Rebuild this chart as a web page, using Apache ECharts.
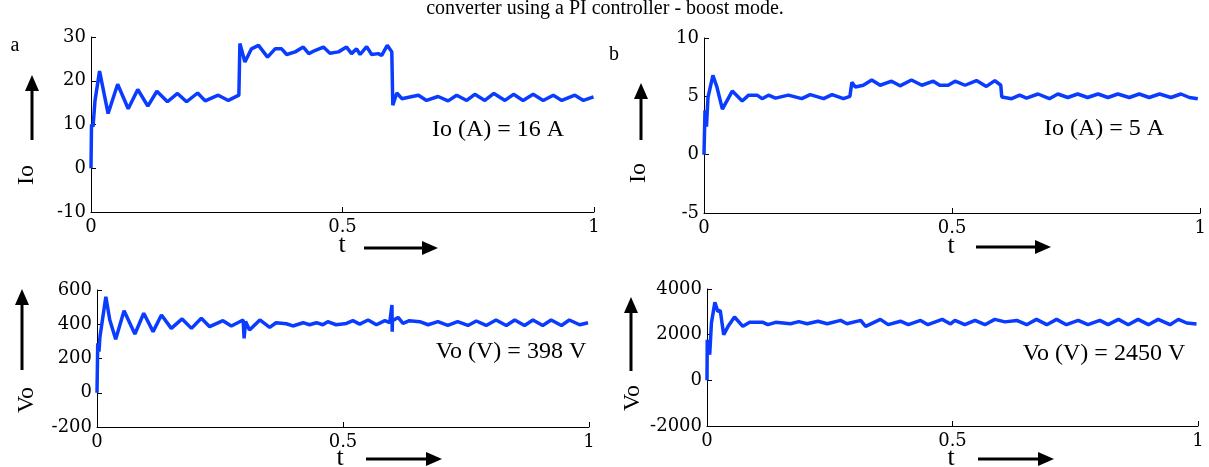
<!DOCTYPE html>
<html>
<head>
<meta charset="utf-8">
<script src="https://cdn.jsdelivr.net/npm/echarts@6/dist/echarts.min.js"></script>
<style>
  html, body { margin: 0; padding: 0; background: #fff; }
  #chart { width: 1209px; height: 467px; }
</style>
</head>
<body>
<div id="chart"></div>
<script>
// (a) output current, boost mode
const tA = [0, 0.001, 0.004, 0.008, 0.017, 0.034, 0.053, 0.074, 0.093, 0.113, 0.131, 0.152, 0.172, 0.190, 0.212, 0.227, 0.253, 0.273, 0.294,
  0.296, 0.306, 0.319, 0.333, 0.351, 0.366, 0.379, 0.389, 0.406, 0.422, 0.433, 0.445, 0.462, 0.475, 0.492, 0.508, 0.518, 0.528, 0.535, 0.548, 0.558, 0.571, 0.578, 0.589, 0.598,
  0.600, 0.608, 0.618, 0.634, 0.651, 0.667, 0.690, 0.710, 0.727, 0.747, 0.763, 0.783, 0.801, 0.823, 0.840, 0.859, 0.879, 0.899, 0.919, 0.936, 0.962, 0.979, 0.999];
const ioA = [0, 10, 9.5, 15.5, 22.2, 12.5, 19.2, 13.6, 18.0, 14.2, 17.6, 15.2, 17.1, 15.2, 17.2, 15.4, 16.7, 15.5, 16.7,
  28.5, 24.3, 27.3, 28.1, 25.4, 27.3, 27.3, 26.0, 26.6, 27.7, 26.2, 26.9, 27.7, 26.3, 26.6, 27.7, 26.2, 27.3, 26.0, 27.8, 26.0, 26.2, 25.8, 28.1, 26.6,
  14.4, 17.2, 15.9, 16.3, 16.7, 15.5, 16.4, 15.4, 16.7, 15.5, 16.9, 15.5, 17.1, 15.5, 16.9, 15.5, 16.9, 15.5, 16.7, 15.5, 16.7, 15.5, 16.3];

// (b) output current
const tB = [0, 0.002, 0.005, 0.008, 0.018, 0.026, 0.037, 0.057, 0.077, 0.090, 0.107, 0.117, 0.130, 0.144, 0.170, 0.197, 0.214, 0.241, 0.258, 0.281, 0.294,
  0.298, 0.305, 0.321, 0.338, 0.355, 0.378, 0.395, 0.418, 0.439, 0.462, 0.475, 0.492, 0.506, 0.526, 0.549, 0.569, 0.586, 0.598,
  0.600, 0.620, 0.636, 0.650, 0.673, 0.696, 0.713, 0.733, 0.753, 0.773, 0.794, 0.814, 0.834, 0.857, 0.877, 0.897, 0.918, 0.941, 0.961, 0.978, 0.995];
const ioB = [0, 3.8, 2.4, 4.9, 6.8, 5.8, 3.9, 5.45, 4.6, 5.1, 5.1, 4.8, 5.1, 4.85, 5.1, 4.8, 5.15, 4.8, 5.15, 4.8, 5.0,
  6.2, 5.8, 5.95, 6.4, 5.95, 6.3, 5.9, 6.4, 5.95, 6.3, 5.95, 5.95, 6.3, 5.95, 6.35, 5.85, 6.35, 5.95,
  4.95, 4.8, 5.1, 4.85, 5.2, 4.8, 5.2, 4.9, 5.2, 4.9, 5.2, 4.9, 5.2, 4.9, 5.2, 4.9, 5.2, 4.9, 5.2, 4.9, 4.8];

// (a) output voltage
const tC = [0, 0.0015, 0.004, 0.006, 0.018, 0.026, 0.038, 0.055, 0.077, 0.095, 0.114, 0.131, 0.151, 0.173, 0.192, 0.212, 0.229, 0.256, 0.273, 0.297,
  0.299, 0.302, 0.310, 0.331, 0.351, 0.364, 0.385, 0.398, 0.419, 0.432, 0.446, 0.459, 0.469, 0.486, 0.507, 0.520, 0.534, 0.551, 0.568, 0.585, 0.595,
  0.5995, 0.600, 0.6005, 0.612, 0.622, 0.635, 0.656, 0.673, 0.693, 0.713, 0.733, 0.754, 0.771, 0.791, 0.811, 0.832, 0.849, 0.869, 0.886, 0.906, 0.923, 0.944, 0.960, 0.981, 0.998];
const voC = [0, 289, 240, 327, 561, 425, 312, 479, 343, 464, 357, 454, 376, 431, 376, 435, 386, 421, 390, 425,
  318, 416, 366, 425, 382, 409, 403, 390, 409, 397, 409, 397, 415, 397, 405, 421, 401, 425, 397, 421, 409,
  512, 357, 420, 440, 405, 421, 415, 397, 415, 393, 415, 393, 419, 393, 425, 393, 425, 393, 425, 393, 425, 393, 425, 397, 409];

// (b) output voltage
const tD = [0, 0.0005, 0.0055, 0.009, 0.016, 0.022, 0.027, 0.034, 0.043, 0.056, 0.073, 0.087, 0.114, 0.124, 0.140, 0.170, 0.187, 0.204, 0.226, 0.245,
  0.272, 0.285, 0.313, 0.323, 0.353, 0.369, 0.394, 0.410, 0.435, 0.450, 0.479, 0.496, 0.505, 0.525, 0.546, 0.566, 0.586, 0.607, 0.631, 0.651,
  0.671, 0.692, 0.712, 0.732, 0.756, 0.776, 0.800, 0.817, 0.838, 0.858, 0.878, 0.899, 0.919, 0.943, 0.960, 0.977, 0.997];
const voD = [0, 1781, 1125, 2512, 3414, 3020, 3060, 2000, 2365, 2775, 2365, 2540, 2540, 2438, 2540, 2480, 2570, 2480, 2590, 2480,
  2625, 2480, 2625, 2365, 2670, 2438, 2590, 2438, 2625, 2438, 2670, 2470, 2628, 2438, 2628, 2438, 2670, 2560, 2625, 2438,
  2670, 2438, 2670, 2438, 2628, 2438, 2628, 2438, 2670, 2438, 2670, 2438, 2670, 2438, 2670, 2510, 2470];

const yRanges = [[-10, 30, 10], [-5, 10, 5], [-200, 600, 200], [-2000, 4000, 2000]];
const grids = [
  { left: 91, top: 37, width: 503, height: 175 },
  { left: 704, top: 38, width: 497, height: 175 },
  { left: 97, top: 290, width: 492, height: 137 },
  { left: 707, top: 289, width: 491, height: 137 }
];

const lineBlue = '#0a3cff';
const tickFont = { color: '#000', fontFamily: 'DejaVu Serif', fontSize: 18, formatter: (v) => String(v) };

function zip(ts, vs) {
  return ts.map((t, i) => [t, vs[i]]);
}

function upArrow(x, yTop, yBottom) {
  return [
    { type: 'line', shape: { x1: x, y1: yBottom, x2: x, y2: yTop + 12 }, style: { stroke: '#000', lineWidth: 3 } },
    { type: 'polygon', shape: { points: [[x, yTop], [x - 7, yTop + 16], [x + 7, yTop + 16]] }, style: { fill: '#000' } }
  ];
}

function rightArrow(x1, x2, y) {
  return [
    { type: 'line', shape: { x1: x1, y1: y, x2: x2 - 12, y2: y }, style: { stroke: '#000', lineWidth: 3 } },
    { type: 'polygon', shape: { points: [[x2, y], [x2 - 16, y - 7], [x2 - 16, y + 7]] }, style: { fill: '#000' } }
  ];
}

function label(text, x, y, size, rotate) {
  return {
    type: 'text', x: x, y: y, rotation: rotate ? Math.PI / 2 : 0,
    style: { text: text, fill: '#000', fontFamily: 'Liberation Serif', fontSize: size, align: 'center', verticalAlign: 'middle' }
  };
}

var chartDom = document.getElementById('chart');
var myChart = echarts.init(chartDom);

let graphics = [
  label('converter using a PI controller - boost mode.', 605, 9, 20),
  label('a', 15, 46, 20),
  label('b', 614, 55, 20),
  label('Io', 27, 175, 24, true),
  label('Io', 639, 173, 24, true),
  label('Vo', 27, 400, 24, true),
  label('Vo', 633, 398, 24, true),
  label('t', 342, 245, 26),
  label('t', 951, 246, 26),
  label('t', 340, 458, 26),
  label('t', 951, 458, 26),
  label('Io (A) = 16 A', 498, 130, 24),
  label('Io (A) = 5 A', 1104, 129, 24),
  label('Vo (V) = 398 V', 511, 352, 24),
  label('Vo (V) = 2450 V', 1104, 354, 24)
];
graphics = graphics
  .concat(upArrow(32, 75, 140), upArrow(641, 83, 140), upArrow(22, 289, 370), upArrow(631, 297, 371))
  .concat(rightArrow(364, 438, 248), rightArrow(976, 1051, 247), rightArrow(366, 442, 459), rightArrow(978, 1054, 459));

const option = {
  animation: false,
  grid: grids,
  xAxis: grids.map((g, i) => ({
    type: 'value', gridIndex: i, min: 0, max: 1, interval: 0.5,
    axisLine: { show: true, onZero: false, lineStyle: { color: '#000', width: 1 } },
    axisTick: { show: true, inside: true, length: 5, lineStyle: { color: '#000' } },
    splitLine: { show: false },
    axisLabel: Object.assign({ margin: 6 }, tickFont)
  })),
  yAxis: yRanges.map((r, i) => ({
    type: 'value', gridIndex: i, min: r[0], max: r[1], interval: r[2],
    axisLine: { show: true, onZero: false, lineStyle: { color: '#000', width: 1 } },
    axisTick: { show: true, inside: true, length: 5, lineStyle: { color: '#000' } },
    splitLine: { show: false },
    axisLabel: Object.assign({ margin: 5 }, tickFont)
  })),
  series: [zip(tA, ioA), zip(tB, ioB), zip(tC, voC), zip(tD, voD)].map((d, i) => ({
    type: 'line', xAxisIndex: i, yAxisIndex: i, data: d,
    showSymbol: false, smooth: false,
    lineStyle: { color: lineBlue, width: 3.5 }
  })),
  graphic: graphics
};

option && myChart.setOption(option);

window.addEventListener('resize', function () {
  myChart.resize();
});
</script>
</body>
</html>
